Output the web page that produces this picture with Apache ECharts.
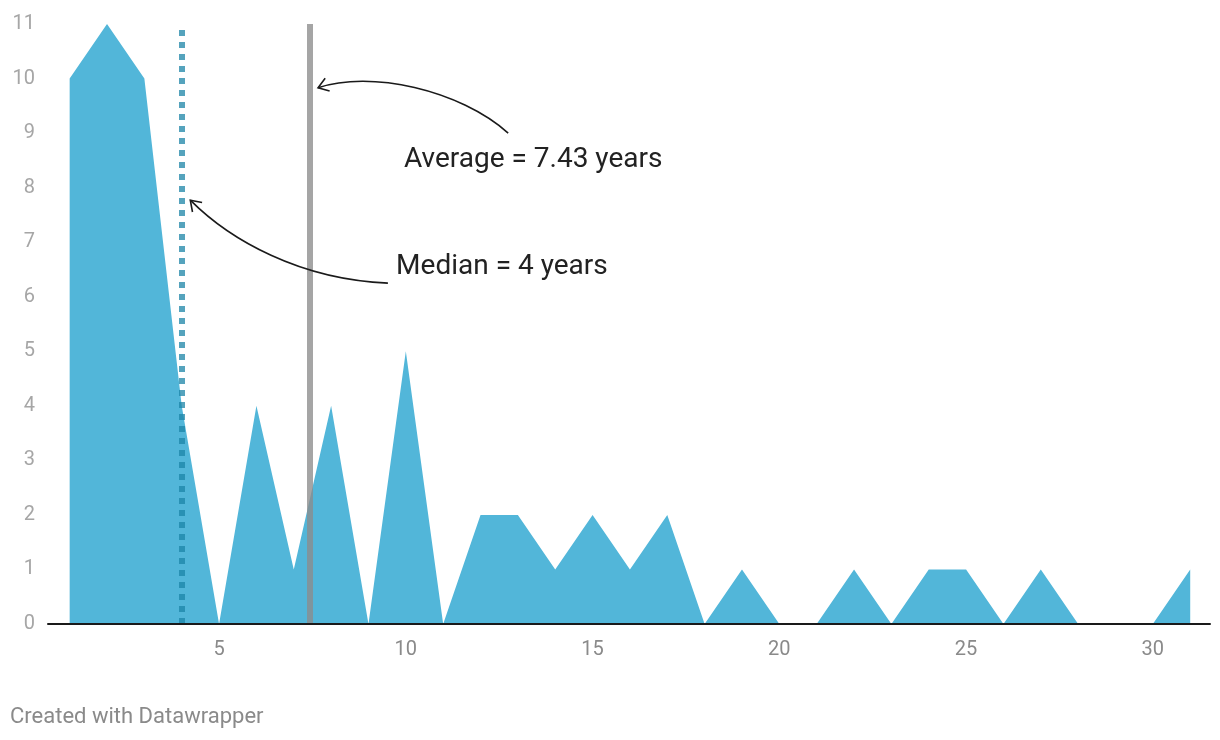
<!DOCTYPE html>
<html>
<head>
<meta charset="utf-8">
<script src="https://cdn.jsdelivr.net/npm/echarts@6/dist/echarts.min.js"></script>
<style>
  html, body { margin: 0; padding: 0; background: #fff; }
  #chart { width: 1220px; height: 740px; }
</style>
</head>
<body>
<div id="chart"></div>
<script>
// ---- data ----
const years = [1, 2, 3, 4, 5, 6, 7, 8, 9, 10, 11, 12, 13, 14, 15, 16, 17, 18, 19, 20, 21, 22, 23, 24, 25, 26, 27, 28, 29, 30, 31];
const counts = [10, 11, 10, 4, 0, 4, 1, 4, 0, 5, 0, 2, 2, 1, 2, 1, 2, 0, 1, 0, 0, 1, 0, 1, 1, 0, 1, 0, 0, 0, 1];
const xTickLabels = [5, 10, 15, 20, 25, 30];
const medianYears = 4;
const averageYears = 7.43;
const averageLabel = 'Average = 7.43 years';
const medianLabel = 'Median = 4 years';
const footerText = 'Created with Datawrapper';

// annotation anchors in data coordinates [x, y]
const averageTextPos = [9.95, 8.50];
const medianTextPos = [9.74, 6.54];
const averageArrow = [[12.74, 9.0], [11.45, 9.79], [9.04, 10.16], [7.65, 9.83]];
const medianArrow = [[9.52, 6.25], [7.17, 6.31], [5.29, 7.04], [4.23, 7.77]];

const seriesData = years.map((y, i) => [y, counts[i]]);

const FONT = 'Roboto, "Noto Sans", sans-serif';
const chart = echarts.init(document.getElementById('chart'), null, { renderer: 'canvas' });

chart.setOption({
  animation: false,
  backgroundColor: '#ffffff',
  textStyle: { fontFamily: FONT },
  title: {
    text: footerText,
    left: 5,
    top: 701,
    textStyle: { fontFamily: FONT, fontSize: 22, fontWeight: 'normal', color: '#8a8a8a' }
  },
  grid: { left: 48, right: 10, top: 24, bottom: 116, containLabel: false },
  xAxis: {
    type: 'value',
    min: 0.42,
    max: 31.53,
    z: 10,
    splitLine: { show: false },
    axisTick: { show: false },
    axisLine: { show: true, lineStyle: { color: '#1a1a1a', width: 2 } },
    axisLabel: {
      customValues: xTickLabels,
      color: '#8a8a8a',
      fontSize: 20,
      fontFamily: FONT,
      margin: 16
    }
  },
  yAxis: {
    type: 'value',
    min: 0,
    max: 11,
    interval: 1,
    splitLine: { show: false },
    axisTick: { show: false },
    axisLine: { show: false },
    axisLabel: { color: '#a6a6a6', fontSize: 20, fontFamily: FONT, margin: 13 }
  },
  series: [{
    type: 'line',
    data: seriesData,
    showSymbol: false,
    symbol: 'none',
    smooth: false,
    lineStyle: { width: 0, color: '#52b6d9' },
    itemStyle: { color: '#52b6d9' },
    areaStyle: { color: '#52b6d9', opacity: 1 },
    markLine: {
      silent: true,
      symbol: ['none', 'none'],
      label: { show: false },
      z: 5,
      data: [
        { xAxis: medianYears, lineStyle: { color: 'rgba(28,132,167,0.75)', width: 6, type: [6, 6] } },
        { xAxis: averageYears, lineStyle: { color: 'rgba(140,140,140,0.78)', width: 6, type: 'solid' } }
      ]
    }
  }]
});

function px(p) { return chart.convertToPixel({ gridIndex: 0 }, p); }

function arrowGraphics(pts) {
  const p = pts.map(px);
  const [p0, p1, p2, p3] = p;
  const els = [{
    type: 'bezierCurve',
    shape: { x1: p0[0], y1: p0[1], cpx1: p1[0], cpy1: p1[1], cpx2: p2[0], cpy2: p2[1], x2: p3[0], y2: p3[1] },
    style: { stroke: '#1a1a1a', lineWidth: 1.6, fill: null },
    z: 20
  }];
  const dx = p3[0] - p2[0], dy = p3[1] - p2[1];
  const len = Math.hypot(dx, dy);
  const ux = dx / len, uy = dy / len;
  const L = 12, ang = 0.6;
  const a1 = [p3[0] - L * (ux * Math.cos(ang) - uy * Math.sin(ang)), p3[1] - L * (uy * Math.cos(ang) + ux * Math.sin(ang))];
  const a2 = [p3[0] - L * (ux * Math.cos(-ang) - uy * Math.sin(-ang)), p3[1] - L * (uy * Math.cos(-ang) + ux * Math.sin(-ang))];
  els.push({
    type: 'polyline',
    shape: { points: [a1, p3, a2] },
    style: { stroke: '#1a1a1a', lineWidth: 1.6, fill: null },
    z: 20
  });
  return els;
}

function textGraphic(pos, txt) {
  const p = px(pos);
  return {
    type: 'text',
    x: p[0],
    y: p[1],
    z: 20,
    style: { text: txt, fill: '#222222', fontSize: 28, fontFamily: FONT, verticalAlign: 'middle', align: 'left' }
  };
}

chart.setOption({
  graphic: [
    ...arrowGraphics(averageArrow),
    ...arrowGraphics(medianArrow),
    textGraphic(averageTextPos, averageLabel),
    textGraphic(medianTextPos, medianLabel)
  ]
});
</script>
</body>
</html>
